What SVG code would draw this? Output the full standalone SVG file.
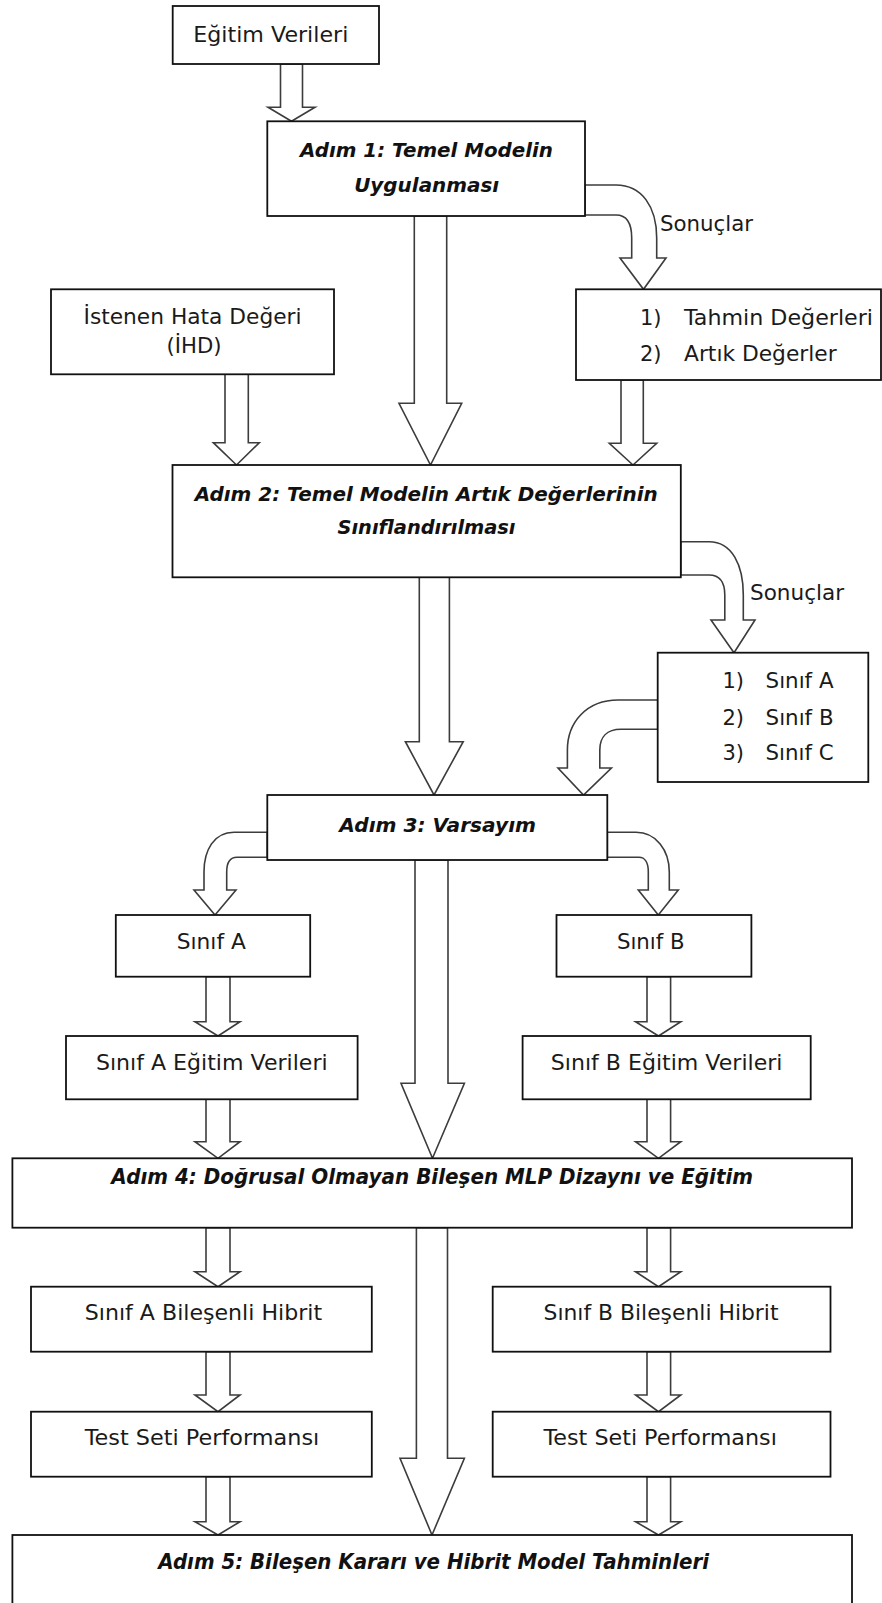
<svg xmlns="http://www.w3.org/2000/svg" width="882" height="1603" viewBox="0 0 882 1603">
<style>
.box{fill:#fff;stroke:#111;stroke-width:1.8}
.arr{fill:#fff;stroke:#3c3c3c;stroke-width:1.6;stroke-linejoin:miter}
.t{font-family:"DejaVu Sans","Liberation Sans",sans-serif;font-size:21px;fill:#1a1a1a;text-anchor:middle}
.l{font-family:"DejaVu Sans","Liberation Sans",sans-serif;font-size:21px;fill:#1a1a1a}
.s{font-family:"DejaVu Sans","Liberation Sans",sans-serif;font-size:19px;font-style:italic;font-weight:bold;fill:#111;text-anchor:middle}
.s2{font-family:"DejaVu Sans","Liberation Sans",sans-serif;font-size:21px;font-style:italic;font-weight:bold;fill:#111;text-anchor:middle}
</style>
<rect width="882" height="1603" fill="#fff"/>
<g id="connectors">
<polygon class="arr" points="280.5,64 280.5,107.3 268,107.3 291.5,121.3 315,107.3 302.5,107.3 302.5,64"/>
<polygon class="arr" points="414.3,216 414.3,403.3 399,403.3 430.5,465 461.7,403.3 446.7,403.3 446.7,216"/>
<polygon class="arr" points="225,374.3 225,442.7 213.3,442.7 236.5,465 259.3,442.7 248.3,442.7 248.3,374.3"/>
<polygon class="arr" points="621,380 621,443.3 609.3,443.3 633,465 656.7,443.3 643.3,443.3 643.3,380"/>
<polygon class="arr" points="419.3,577.3 419.3,741.7 405.4,741.7 434,795 463.2,741.7 449.4,741.7 449.4,577.3"/>
<polygon class="arr" points="415,860 415,1083.3 401,1083.3 432.5,1158.3 464.4,1083.3 448,1083.3 448,860"/>
<polygon class="arr" points="206,976.7 206,1021.7 195,1021.7 218,1036 240,1021.7 230,1021.7 230,976.7"/>
<polygon class="arr" points="647,976.7 647,1021.7 635.6,1021.7 658.5,1036 680.8,1021.7 670.6,1021.7 670.6,976.7"/>
<polygon class="arr" points="206,1099.3 206,1141.7 195,1141.7 218,1158.3 240,1141.7 230,1141.7 230,1099.3"/>
<polygon class="arr" points="647,1099.3 647,1141.7 635.6,1141.7 658.5,1158.3 680.8,1141.7 670.6,1141.7 670.6,1099.3"/>
<polygon class="arr" points="206,1227.7 206,1271.7 195,1271.7 218,1286.7 240,1271.7 230,1271.7 230,1227.7"/>
<polygon class="arr" points="647,1227.7 647,1271.7 635.6,1271.7 658.5,1286.7 680.8,1271.7 670.6,1271.7 670.6,1227.7"/>
<polygon class="arr" points="416.4,1227.7 416.4,1458.3 400,1458.3 432,1535 464.4,1458.3 447.5,1458.3 447.5,1227.7"/>
<polygon class="arr" points="206,1351.7 206,1395 195,1395 218,1411.7 240,1395 230,1395 230,1351.7"/>
<polygon class="arr" points="647,1351.7 647,1395 635.6,1395 658.5,1411.7 680.8,1395 670.6,1395 670.6,1351.7"/>
<polygon class="arr" points="206,1476.7 206,1521.7 195,1521.7 218,1535 240,1521.7 230,1521.7 230,1476.7"/>
<polygon class="arr" points="647,1476.7 647,1521.7 635.6,1521.7 658.5,1535 680.8,1521.7 670.6,1521.7 670.6,1476.7"/>
<path class="arr" d="M585,185 H616 C642,185 656.7,207 656.7,238 V258 H666 L643.5,289.3 L620,258 H631.7 V238 C631.7,223 627,215 616,215 H585 Z"/>
<path class="arr" d="M680.8,541.7 H709 C732,541.7 743.3,565 743.3,595 V620 H755 L734,652.7 L711,620 H724.8 V595 C724.8,582 720,575 709,575 H680.8 Z"/>
<path class="arr" d="M657.7,700 H618 C587,700 567.4,722 567.4,750 V768 H558 L583.5,795 L611.4,768 H599.8 V750 C599.8,737 607,729.3 621,729.3 H657.7 Z"/>
<path class="arr" d="M267.3,832.3 H234 C214,832.3 204,850 204,872 V890 H194 L215,915 L236,890 H226.7 V872 C226.7,863 230,857.3 237,857.3 H267.3 Z"/>
<path class="arr" d="M607.3,832.3 H636 C656,832.3 669.3,850 669.3,872 V890 H678.3 L658.3,915 L638.3,890 H648.3 V872 C648.3,863 645,857.3 639,857.3 H607.3 Z"/>
<text class="l" x="660" y="230.7" textLength="93" lengthAdjust="spacingAndGlyphs">Sonuçlar</text>
<text class="l" x="750" y="600" textLength="94" lengthAdjust="spacingAndGlyphs">Sonuçlar</text>
</g>
<g id="egitim">
<rect class="box" x="172.7" y="6" width="206.3" height="58"/>
<text class="t" x="270.8" y="41.7" textLength="155" lengthAdjust="spacingAndGlyphs">Eğitim Verileri</text>
</g>
<g id="adim1">
<rect class="box" x="267.3" y="121.3" width="317.7" height="94.7"/>
<text class="s" x="426.5" y="156.7" textLength="253" lengthAdjust="spacingAndGlyphs">Adım 1: Temel Modelin</text>
<text class="s" x="426.7" y="191.7" textLength="145" lengthAdjust="spacingAndGlyphs">Uygulanması</text>
</g>
<g id="ihd">
<rect class="box" x="51" y="289.3" width="283" height="85"/>
<text class="t" x="192.5" y="324" textLength="218" lengthAdjust="spacingAndGlyphs">İstenen Hata Değeri</text>
<text class="t" x="194" y="353" textLength="55" lengthAdjust="spacingAndGlyphs">(İHD)</text>
</g>
<g id="sonuclar1">
<rect class="box" x="576" y="289.3" width="305" height="90.7"/>
<text class="l" x="640" y="325">1)</text>
<text class="l" x="684" y="325" textLength="189" lengthAdjust="spacingAndGlyphs">Tahmin Değerleri</text>
<text class="l" x="640" y="360.7">2)</text>
<text class="l" x="684" y="360.7" textLength="152.7" lengthAdjust="spacingAndGlyphs">Artık Değerler</text>
</g>
<g id="adim2">
<rect class="box" x="172.5" y="465" width="508.3" height="112.3"/>
<text class="s" x="426.2" y="500.7" textLength="463" lengthAdjust="spacingAndGlyphs">Adım 2: Temel Modelin Artık Değerlerinin</text>
<text class="s" x="426.5" y="534" textLength="178" lengthAdjust="spacingAndGlyphs">Sınıflandırılması</text>
</g>
<g id="siniflar">
<rect class="box" x="657.7" y="652.7" width="210.6" height="129.3"/>
<text class="l" x="722.5" y="688.3">1)</text>
<text class="l" x="765.6" y="688.3" textLength="68" lengthAdjust="spacingAndGlyphs">Sınıf A</text>
<text class="l" x="722.5" y="725">2)</text>
<text class="l" x="765.6" y="725" textLength="68" lengthAdjust="spacingAndGlyphs">Sınıf B</text>
<text class="l" x="722.5" y="760">3)</text>
<text class="l" x="765.6" y="760" textLength="68" lengthAdjust="spacingAndGlyphs">Sınıf C</text>
</g>
<g id="adim3">
<rect class="box" x="267.3" y="795" width="340" height="65"/>
<text class="s" x="437.7" y="831.7" textLength="196.7" lengthAdjust="spacingAndGlyphs">Adım 3: Varsayım</text>
</g>
<g id="sinifA">
<rect class="box" x="115.8" y="915" width="194.4" height="61.7"/>
<text class="t" x="211.3" y="949.3" textLength="69" lengthAdjust="spacingAndGlyphs">Sınıf A</text>
</g>
<g id="sinifB">
<rect class="box" x="556.5" y="915" width="194.9" height="61.7"/>
<text class="t" x="650.8" y="949.3" textLength="67.7" lengthAdjust="spacingAndGlyphs">Sınıf B</text>
</g>
<g id="sinifAegitim">
<rect class="box" x="66" y="1036" width="291.6" height="63.3"/>
<text class="t" x="211.8" y="1070" textLength="231.7" lengthAdjust="spacingAndGlyphs">Sınıf A Eğitim Verileri</text>
</g>
<g id="sinifBegitim">
<rect class="box" x="522.6" y="1036" width="288.1" height="63.3"/>
<text class="t" x="666.6" y="1070" textLength="231.7" lengthAdjust="spacingAndGlyphs">Sınıf B Eğitim Verileri</text>
</g>
<g id="adim4">
<rect class="box" x="12.4" y="1158.3" width="839.6" height="69.4"/>
<text class="s2" x="432.2" y="1184" textLength="641.7" lengthAdjust="spacingAndGlyphs">Adım 4: Doğrusal Olmayan Bileşen MLP Dizaynı ve Eğitim</text>
</g>
<g id="hibritA">
<rect class="box" x="31" y="1286.7" width="340.8" height="65"/>
<text class="t" x="203.4" y="1320" textLength="237.3" lengthAdjust="spacingAndGlyphs">Sınıf A Bileşenli Hibrit</text>
</g>
<g id="hibritB">
<rect class="box" x="492.7" y="1286.7" width="337.8" height="65"/>
<text class="t" x="661" y="1320" textLength="235" lengthAdjust="spacingAndGlyphs">Sınıf B Bileşenli Hibrit</text>
</g>
<g id="testA">
<rect class="box" x="31" y="1411.7" width="340.8" height="65"/>
<text class="t" x="202" y="1445" textLength="234.5" lengthAdjust="spacingAndGlyphs">Test Seti Performansı</text>
</g>
<g id="testB">
<rect class="box" x="492.7" y="1411.7" width="337.8" height="65"/>
<text class="t" x="660.2" y="1445" textLength="233.3" lengthAdjust="spacingAndGlyphs">Test Seti Performansı</text>
</g>
<g id="adim5">
<rect class="box" x="12.4" y="1535" width="839.6" height="80"/>
<text class="s2" x="433.6" y="1569" textLength="550.8" lengthAdjust="spacingAndGlyphs">Adım 5: Bileşen Kararı ve Hibrit Model Tahminleri</text>
</g>
</svg>
